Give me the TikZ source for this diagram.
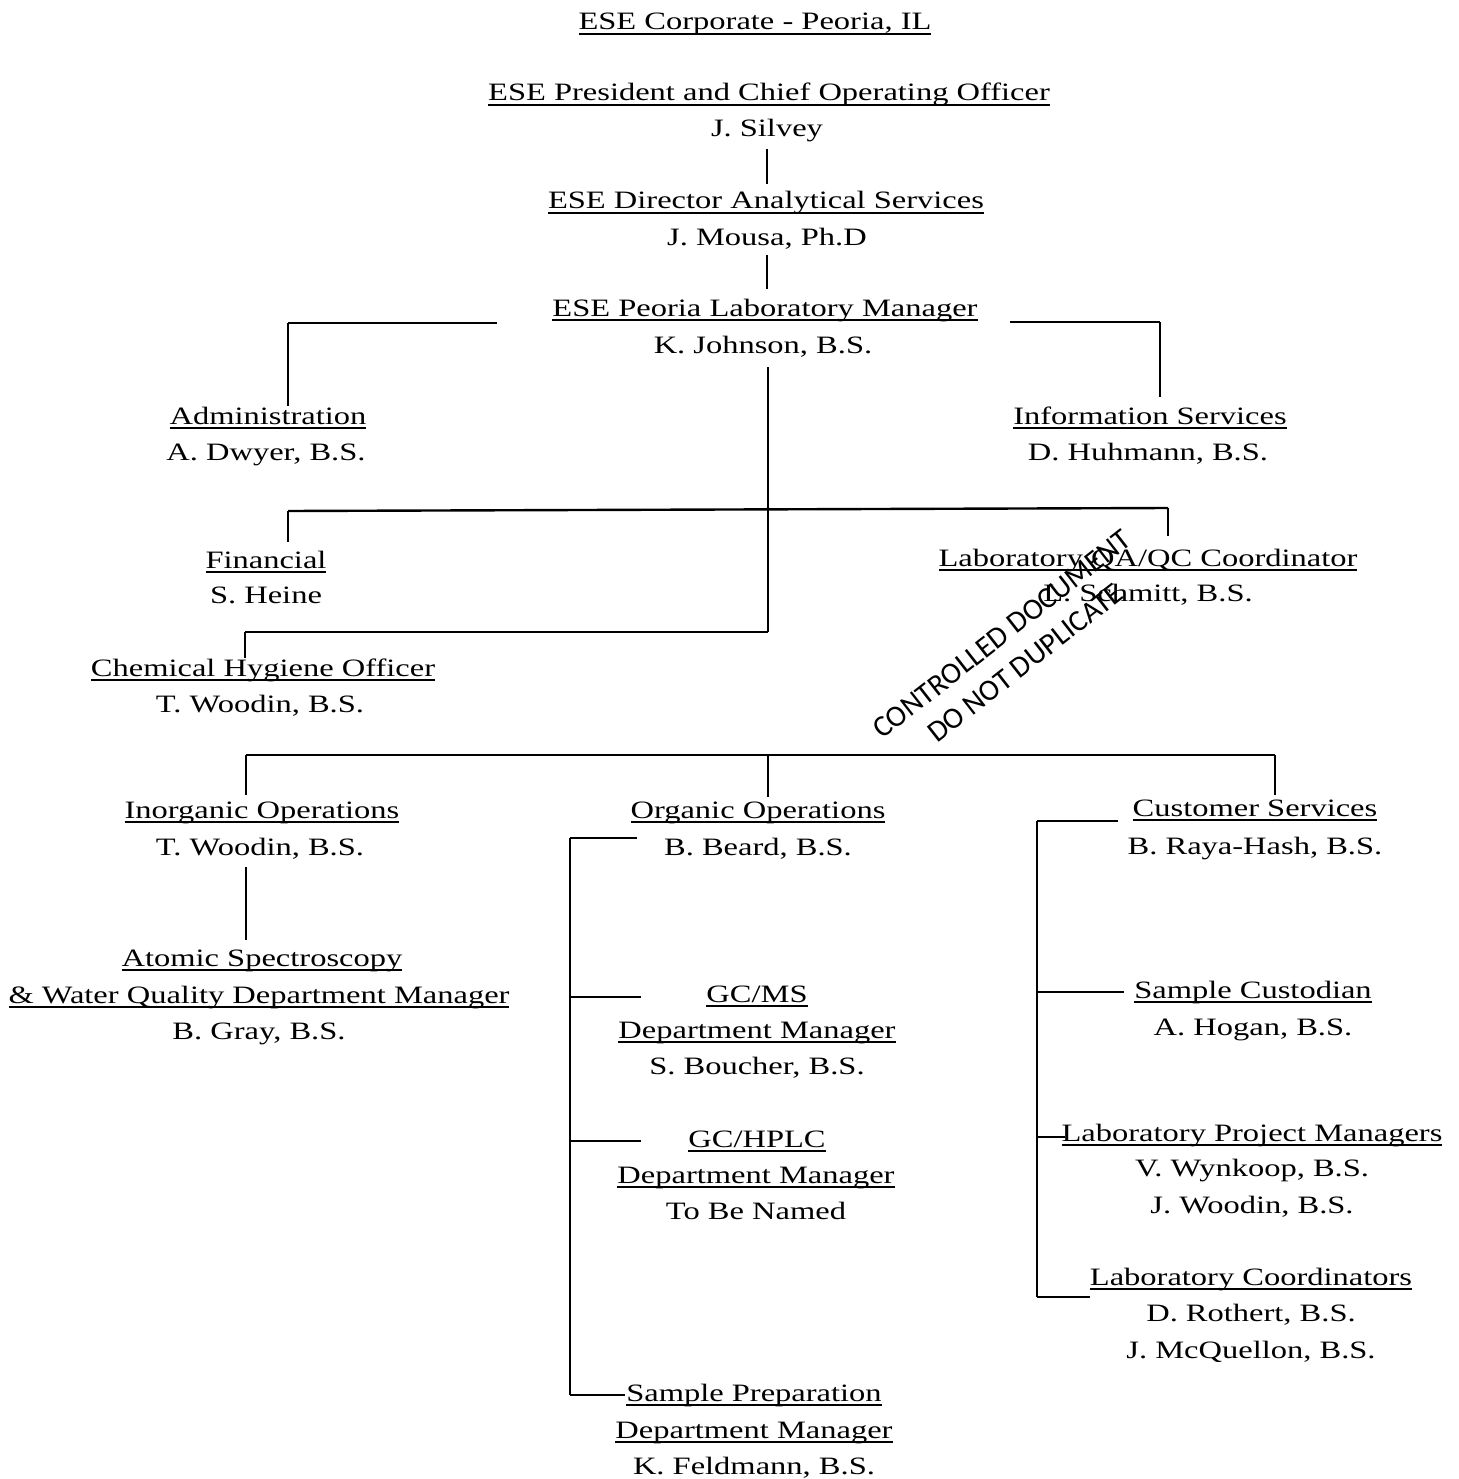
\documentclass[tikz,border=0pt]{standalone}
\usepackage{fontspec}
\setmainfont[FakeStretch=1.3]{Liberation Serif}
\newfontfamily\wmfont{Carlito}
\newcommand\ulx[1]{\leavevmode\setbox0=\hbox{#1}\rlap{\rule[-4.6pt]{\wd0}{1.7pt}}\box0}
\begin{document}
\begin{tikzpicture}[x=1pt,y=-1pt,
  font=\fontsize{25}{30}\selectfont,
  ttl/.style={anchor=base,inner sep=0pt},
  nm/.style={anchor=base,inner sep=0pt},
  conn/.style={line width=1.4pt},
  bar/.style={line width=2.4pt},
  wm/.style={anchor=base west,inner sep=0pt,rotate=38,font=\wmfont\fontsize{30}{34}\selectfont}]
\useasboundingbox (0,0) rectangle (1458,1479);
\fill[white] (0,0) rectangle (1458,1479);
% --- top chain
\node[ttl] (corp) at (755,30) {\ulx{ESE Corporate - Peoria, IL}};
\node[ttl] (pres) at (769,101) {\ulx{ESE President and Chief Operating Officer}};
\node[nm] (presn) at (767,137) {J. Silvey};
\node[ttl] (dir) at (766,209) {\ulx{ESE Director Analytical Services}};
\node[nm] (dirn) at (767,245) {J. Mousa, Ph.D};
\node[ttl] (lab) at (765,316) {\ulx{ESE Peoria Laboratory Manager}};
\node[nm] (labn) at (763,353) {K. Johnson, B.S.};
% --- staff
\node[ttl] (adm) at (268,424) {\ulx{Administration}};
\node[nm] (admn) at (266,460) {A. Dwyer, B.S.};
\node[ttl] (inf) at (1150,424) {\ulx{Information Services}};
\node[nm] (infn) at (1148,460) {D. Huhmann, B.S.};
\node[ttl] (fin) at (266,568) {\ulx{Financial}};
\node[nm] (finn) at (266,603) {S. Heine};
\node[ttl] (qa) at (1148,566) {\ulx{Laboratory QA/QC Coordinator}};
\node[nm] (qan) at (1148,601) {L. Schmitt, B.S.};
\node[ttl] (chem) at (263,676) {\ulx{Chemical Hygiene Officer}};
\node[nm] (chemn) at (260,712) {T. Woodin, B.S.};
% --- inorganic
\node[ttl] (inorg) at (262,818) {\ulx{Inorganic Operations}};
\node[nm] (inorgn) at (260,855) {T. Woodin, B.S.};
\node[ttl] (atom) at (262,966) {\ulx{Atomic Spectroscopy}};
\node[ttl] (atom2) at (259,1003) {\ulx{\& Water Quality Department Manager}};
\node[nm] (atomn) at (259,1039) {B. Gray, B.S.};
% --- organic
\node[ttl] (org) at (758,818) {\ulx{Organic Operations}};
\node[nm] (orgn) at (758,855) {B. Beard, B.S.};
\node[ttl] (gcms) at (757,1002) {\ulx{GC/MS}};
\node[ttl] (gcms2) at (757,1038) {\ulx{Department Manager}};
\node[nm] (gcmsn) at (757,1074) {S. Boucher, B.S.};
\node[ttl] (hplc) at (757,1147) {\ulx{GC/HPLC}};
\node[ttl] (hplc2) at (756,1183) {\ulx{Department Manager}};
\node[nm] (hplcn) at (756,1219) {To Be Named};
\node[ttl] (prep) at (754,1401) {\ulx{Sample Preparation}};
\node[ttl] (prep2) at (754,1438) {\ulx{Department Manager}};
\node[nm] (prepn) at (754,1474) {K. Feldmann, B.S.};
% --- customer
\node[ttl] (cust) at (1255,816) {\ulx{Customer Services}};
\node[nm] (custn) at (1255,854) {B. Raya-Hash, B.S.};
\node[ttl] (scus) at (1253,998) {\ulx{Sample Custodian}};
\node[nm] (scusn) at (1253,1035) {A. Hogan, B.S.};
\node[ttl] (lpm) at (1252,1141) {\ulx{Laboratory Project Managers}};
\node[nm] (lpmn1) at (1252,1176) {V. Wynkoop, B.S.};
\node[nm] (lpmn2) at (1252,1213) {J. Woodin, B.S.};
\node[ttl] (lc) at (1251,1285) {\ulx{Laboratory Coordinators}};
\node[nm] (lcn1) at (1251,1321) {D. Rothert, B.S.};
\node[nm] (lcn2) at (1251,1358) {J. McQuellon, B.S.};
% --- watermark
\node[wm] (wm1) at (882,740) {CONTROLLED DOCUMENT};
\node[wm] (wm2) at (937,744) {DO NOT DUPLICATE};

% --- coordinates
\coordinate (aL) at (497,323); \coordinate (aC) at (288,323);
\coordinate (iL) at (1010,322); \coordinate (iC) at (1160,322);
\coordinate (jB) at (768,632); \coordinate (cL) at (245,632);
\coordinate (fL) at (288,511); \coordinate (fR) at (1168,508);
\coordinate (oL) at (246,755); \coordinate (oM) at (768,755); \coordinate (oR) at (1275,755);
\coordinate (ob1) at (570,838); \coordinate (ob2) at (570,997);
\coordinate (ob3) at (570,1141); \coordinate (ob4) at (570,1395);
\coordinate (ot1) at (637,838); \coordinate (ot2) at (641,997);
\coordinate (ot3) at (641,1141); \coordinate (ot4) at (625,1395);
\coordinate (cb1) at (1037,821); \coordinate (cb2) at (1037,992);
\coordinate (cb3) at (1037,1137); \coordinate (cb4) at (1037,1297);
\coordinate (ct1) at (1118,821); \coordinate (ct2) at (1124,992);
\coordinate (ct3) at (1065,1137); \coordinate (ct4) at (1090,1297);

% --- connectors
\draw[conn] ([yshift=-6pt]presn.south) -- ([yshift=7pt]presn.south |- dir.north);
\draw[conn] ([yshift=-6pt]dirn.south) -- ([yshift=9pt]dirn.south |- lab.north);
\draw[bar] (aL) -- (aC);
\draw[conn] (aC) -- (aC |- adm.north);
\draw[bar] (iL) -- (iC);
\draw[conn] (iC) -- ([yshift=9pt]iC |- inf.north);
\draw[conn] ([yshift=-10pt]jB |- labn.south) -- (jB);
\draw[bar] (jB) -- (cL);
\draw[conn] (cL) -- (cL |- chem.north);
\draw[bar] (fL) -- (fR);
\draw[conn] (fL) -- ([yshift=8pt]fL |- fin.north);
\draw[conn] (fR) -- ([yshift=12pt]fR |- qa.north);
\draw[bar] (oL) -- (oR);
\draw[conn] (oL) -- ([yshift=6pt]oL |- inorg.north);
\draw[conn] (oM) -- ([yshift=4pt]oM |- org.north);
\draw[conn] (oR) -- ([yshift=4pt]oR |- cust.north);
\draw[conn] ([yshift=-8pt]oL |- inorgn.south) -- ([yshift=9pt]oL |- atom.north);
\draw[conn] (ob1) -- (ob4);
\draw[bar] (ob1) -- (ot1);
\draw[bar] (ob2) -- (ot2);
\draw[bar] (ob3) -- (ot3);
\draw[bar] (ob4) -- (ot4);
\draw[conn] (cb1) -- (cb4);
\draw[bar] (cb1) -- (ct1);
\draw[bar] (cb2) -- (ct2);
\draw[bar] (cb3) -- (ct3);
\draw[bar] (cb4) -- (ct4);
\end{tikzpicture}
\end{document}
